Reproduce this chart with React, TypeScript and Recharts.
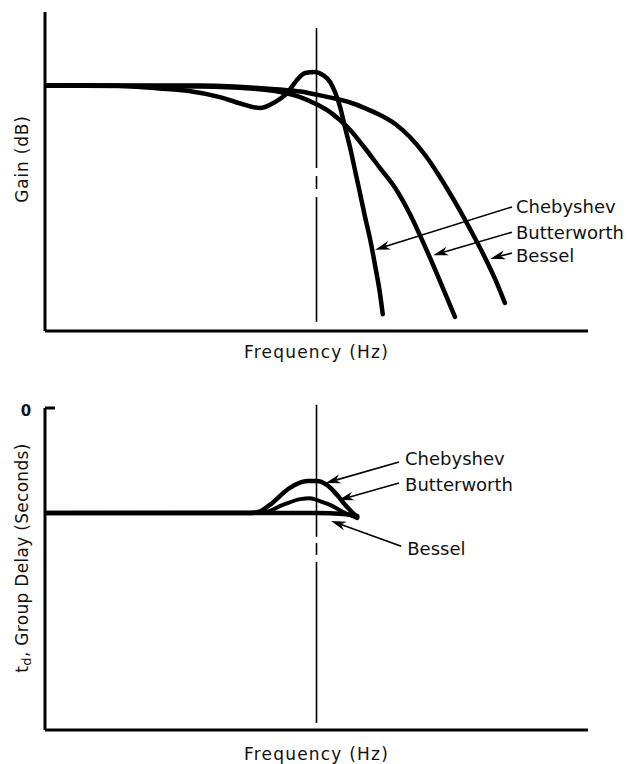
import React from 'react';
import { LineChart, Line, XAxis, YAxis, ReferenceLine } from 'recharts';

// normalised frequency axis, cutoff frequency at f = 5
const CUTOFF = 5;
const FONT = 'DejaVu Sans, Verdana, sans-serif';

// --- Gain (dB) ---
const chebyshevGain = [
  { f: 0, g: 0 }, { f: 1, g: 0 }, { f: 1.75, g: -0.2 }, { f: 2.1, g: -0.4 }, { f: 2.65, g: -0.77 },
  { f: 3.2, g: -1.6 }, { f: 3.6, g: -2.55 }, { f: 3.96, g: -3.2 }, { f: 4.2, g: -2.5 },
  { f: 4.46, g: -1.06 }, { f: 4.64, g: 0.8 }, { f: 4.79, g: 1.8 }, { f: 4.97, g: 1.95 },
  { f: 5.12, g: 1.5 }, { f: 5.25, g: 0.51 }, { f: 5.34, g: -0.91 }, { f: 5.43, g: -2.91 },
  { f: 5.52, g: -5.79 }, { f: 5.62, g: -8.9 }, { f: 5.71, g: -12.1 }, { f: 5.8, g: -15.3 },
  { f: 5.89, g: -18.6 }, { f: 5.99, g: -22.0 }, { f: 6.08, g: -25.7 }, { f: 6.17, g: -29.7 },
  { f: 6.22, g: -32.6 },
];
const butterworthGain = [
  { f: 0, g: 0 }, { f: 2.85, g: -0.13 }, { f: 3.78, g: -0.41 }, { f: 4.33, g: -0.91 },
  { f: 4.7, g: -1.63 }, { f: 4.99, g: -2.62 }, { f: 5.25, g: -3.77 }, { f: 5.62, g: -6.33 },
  { f: 5.89, g: -8.9 }, { f: 6.17, g: -11.76 }, { f: 6.45, g: -14.6 }, { f: 6.72, g: -18.3 },
  { f: 7.03, g: -23.5 }, { f: 7.27, g: -27.8 }, { f: 7.55, g: -33.0 },
];
const besselGain = [
  { f: 0, g: 0 }, { f: 2.85, g: 0 }, { f: 3.78, g: -0.27 }, { f: 4.33, g: -0.56 },
  { f: 4.7, g: -0.84 }, { f: 4.99, g: -1.27 }, { f: 5.34, g: -1.84 }, { f: 5.62, g: -2.41 },
  { f: 5.89, g: -3.2 }, { f: 6.17, g: -4.19 }, { f: 6.45, g: -5.48 }, { f: 6.72, g: -7.33 },
  { f: 7.0, g: -9.9 }, { f: 7.27, g: -13.0 }, { f: 7.55, g: -16.6 }, { f: 7.83, g: -20.5 },
  { f: 8.1, g: -24.5 }, { f: 8.29, g: -27.6 }, { f: 8.47, g: -31.0 },
];

// --- Group delay (axis runs downward from 0) ---
const chebyshevDelay = [
  { f: 0, d: 3.26 }, { f: 3.78, d: 3.26 }, { f: 3.96, d: 3.21 }, { f: 4.14, d: 3.01 },
  { f: 4.51, d: 2.48 }, { f: 4.83, d: 2.27 }, { f: 5.01, d: 2.27 }, { f: 5.19, d: 2.39 },
  { f: 5.38, d: 2.7 }, { f: 5.56, d: 3.07 }, { f: 5.75, d: 3.39 },
];
const butterworthDelay = [
  { f: 0, d: 3.26 }, { f: 4.01, d: 3.25 }, { f: 4.38, d: 3.01 }, { f: 4.7, d: 2.83 },
  { f: 4.88, d: 2.8 }, { f: 5.06, d: 2.89 }, { f: 5.25, d: 3.01 }, { f: 5.49, d: 3.23 },
  { f: 5.75, d: 3.42 },
];
const besselDelay = [
  { f: 0, d: 3.26 }, { f: 5.0, d: 3.26 }, { f: 5.5, d: 3.29 }, { f: 5.75, d: 3.35 },
];

// broken centre line at the cutoff frequency: [from, to] pieces in axis units
const gainCutoffPieces = [[8.2, -11.75], [-12.9, -14.75], [-15.9, -33.7]];
const delayCutoffPieces = [[-0.1, 4.0], [4.19, 4.56], [4.78, 9.78]];

// callouts: label, label anchor (f, value), arrow tip (f, value), text nudge
const gainCallouts = [
  { name: 'Chebyshev', from: [8.6, -17.3], to: [6.08, -23.4], dy: 0 },
  { name: 'Butterworth', from: [8.6, -20.9], to: [7.15, -24.2], dy: 0 },
  { name: 'Bessel', from: [8.6, -23.88], to: [8.2, -24.7], dy: 2 },
];
const delayCallouts = [
  { name: 'Chebyshev', from: [6.52, 1.68], to: [5.17, 2.33], dy: -4 },
  { name: 'Butterworth', from: [6.52, 2.33], to: [5.41, 2.86], dy: 1 },
  { name: 'Bessel', from: [6.56, 4.29], to: [5.27, 3.51], dy: 2 },
];

const arrowShape = (label: string, dx: number, dy: number) => (props: any) => {
  const { x1, y1, x2, y2 } = props;
  const ang = Math.atan2(y2 - y1, x2 - x1);
  const c = Math.cos(ang), s = Math.sin(ang);
  const len = 15, half = 4.5;
  const bx = x2 - len * c, by = y2 - len * s;
  const nx = x2 - len * 0.7 * c, ny = y2 - len * 0.7 * s;
  const px = -s * half, py = c * half;
  return (
    <g>
      <line x1={x1} y1={y1} x2={nx} y2={ny} stroke="#000" strokeWidth={1.6} />
      <polygon
        points={`${x2},${y2} ${bx + px},${by + py} ${nx},${ny} ${bx - px},${by - py}`}
        fill="#000"
      />
      <text x={x1 + dx} y={y1 + dy} dominantBaseline="central" fontSize={18} fontFamily={FONT} fill="#111">
        {label}
      </text>
    </g>
  );
};

const FreqLabel = (dy: number) => (props: any) => {
  const vb = props.viewBox;
  return (
    <text
      x={vb.x + vb.width / 2}
      y={vb.y + dy}
      textAnchor="middle"
      fontSize={17}
      letterSpacing={1.2}
      fontFamily={FONT}
      fill="#111"
    >
      Frequency (Hz)
    </text>
  );
};

const GainTitle = (props: any) => {
  const vb = props.viewBox;
  const cx = vb.x + 22;
  const cy = vb.y + 147;
  return (
    <text
      x={cx}
      y={cy}
      transform={`rotate(-90 ${cx} ${cy})`}
      textAnchor="middle"
      dominantBaseline="central"
      fontSize={17}
      letterSpacing={0.8}
      fontFamily={FONT}
      fill="#111"
    >
      Gain (dB)
    </text>
  );
};

const DelayTitle = (props: any) => {
  const vb = props.viewBox;
  const cx = vb.x + 22;
  const cy = vb.y + 150;
  return (
    <text
      x={cx}
      y={cy}
      transform={`rotate(-90 ${cx} ${cy})`}
      textAnchor="middle"
      dominantBaseline="central"
      fontSize={17}
      letterSpacing={0.3}
      fontFamily={FONT}
      fill="#111"
    >
      t<tspan fontSize={13} dy={4}>d</tspan>
      <tspan dy={-4}>, Group Delay (Seconds)</tspan>
    </text>
  );
};

const ZeroTick = (props: any) => {
  const { x, y, payload } = props;
  return (
    <g>
      <line x1={x} y1={y} x2={x + 10} y2={y} stroke="#000" strokeWidth={3} />
      <text x={x - 19} y={y + 3} textAnchor="middle" dominantBaseline="central" fontSize={15} fontWeight="bold" fontFamily={FONT} fill="#111">
        {payload.value}
      </text>
    </g>
  );
};

const axisStroke = { stroke: '#000', strokeWidth: 3 };
const curve = { type: 'monotone' as const, stroke: '#000', strokeLinecap: 'round' as const, dot: false, isAnimationActive: false };

export default function App() {
  return (
    <div style={{ position: 'absolute', left: 0, top: 0, width: 631, height: 764, background: '#fff' }}>
      <LineChart width={631} height={380} margin={{ top: 12, right: 43, bottom: 9, left: 0 }}>
        <XAxis
          type="number"
          dataKey="f"
          domain={[0, 10]}
          allowDataOverflow
          tick={false}
          tickLine={false}
          axisLine={axisStroke}
          height={40}
          label={FreqLabel(27)}
        />
        <YAxis
          type="number"
          domain={[-35, 10.5]}
          allowDataOverflow
          tick={false}
          tickLine={false}
          axisLine={axisStroke}
          width={45}
          label={GainTitle}
        />
        {gainCutoffPieces.map(([a, b], i) => (
          <ReferenceLine key={i} segment={[{ x: CUTOFF, y: a }, { x: CUTOFF, y: b }]} stroke="#000" strokeWidth={1.6} ifOverflow="visible" />
        ))}
        <Line data={chebyshevGain} dataKey="g" strokeWidth={4.5} {...curve} />
        <Line data={butterworthGain} dataKey="g" strokeWidth={4.5} {...curve} />
        <Line data={besselGain} dataKey="g" strokeWidth={4.5} {...curve} />
        {gainCallouts.map((c) => (
          <ReferenceLine
            key={c.name}
            segment={[{ x: c.from[0], y: c.from[1] }, { x: c.to[0], y: c.to[1] }]}
            ifOverflow="visible"
            shape={arrowShape(c.name, 4, c.dy)}
          />
        ))}
      </LineChart>

      <LineChart width={631} height={384} margin={{ top: 28, right: 43, bottom: 4, left: 0 }}>
        <XAxis
          type="number"
          dataKey="f"
          domain={[0, 10]}
          allowDataOverflow
          tick={false}
          tickLine={false}
          axisLine={axisStroke}
          height={30}
          label={FreqLabel(30)}
        />
        <YAxis
          type="number"
          domain={[0, 10]}
          reversed
          allowDataOverflow
          ticks={[0]}
          tick={ZeroTick}
          tickLine={false}
          tickSize={0}
          tickMargin={0}
          axisLine={axisStroke}
          width={45}
          label={DelayTitle}
        />
        {delayCutoffPieces.map(([a, b], i) => (
          <ReferenceLine key={i} segment={[{ x: CUTOFF, y: a }, { x: CUTOFF, y: b }]} stroke="#000" strokeWidth={1.6} ifOverflow="visible" />
        ))}
        <Line data={besselDelay} dataKey="d" strokeWidth={4.5} {...curve} />
        <Line data={butterworthDelay} dataKey="d" strokeWidth={4} {...curve} />
        <Line data={chebyshevDelay} dataKey="d" strokeWidth={4.5} {...curve} />
        {delayCallouts.map((c) => (
          <ReferenceLine
            key={c.name}
            segment={[{ x: c.from[0], y: c.from[1] }, { x: c.to[0], y: c.to[1] }]}
            ifOverflow="visible"
            shape={arrowShape(c.name, 6, c.dy)}
          />
        ))}
      </LineChart>
    </div>
  );
}
